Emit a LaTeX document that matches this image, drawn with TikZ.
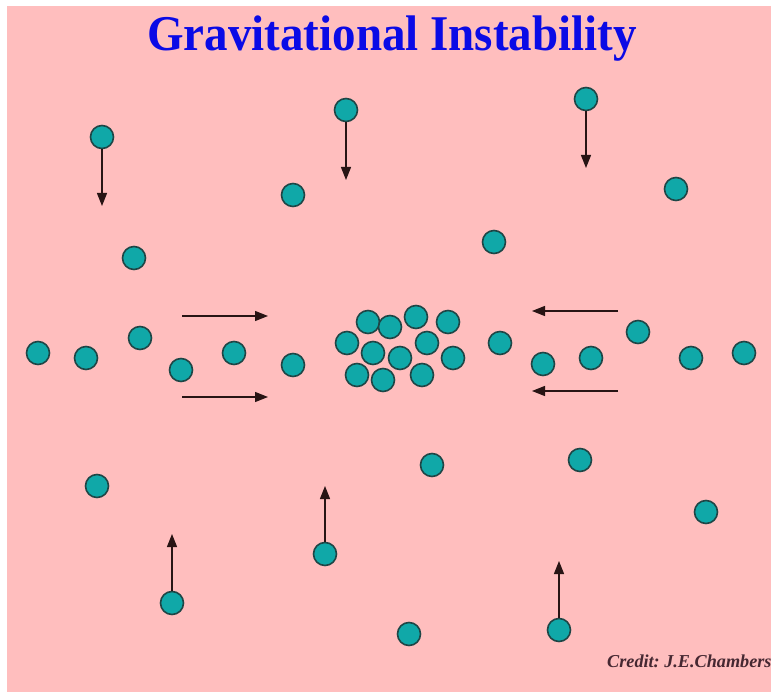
\documentclass[tikz,border=0pt]{standalone}
\usepackage{fontspec}
\setmainfont{Liberation Serif}
\usetikzlibrary{arrows.meta}
\frenchspacing
\definecolor{bgpink}{RGB}{255,190,190}
\definecolor{ballfill}{RGB}{16,168,168}
\definecolor{balledge}{RGB}{30,70,70}
\definecolor{titleblue}{RGB}{10,10,230}
\definecolor{creditcol}{RGB}{70,40,50}
\definecolor{arrowcol}{RGB}{40,20,20}
\tikzset{
  ball/.style={circle,fill=ballfill,draw=balledge,line width=1.6pt,minimum size=23pt,inner sep=0pt},
  motion/.style={draw=arrowcol,line width=1.2pt,-{Triangle[length=13pt,width=10pt]}}
}
\begin{document}
\begin{tikzpicture}[x=1pt,y=-1pt]
\useasboundingbox (0,0) rectangle (771,692);
\fill[white] (-5,-5) rectangle (780,700);
\fill[bgpink] (7,6) rectangle (780,700);
\node[anchor=base,text=titleblue,font=\bfseries\fontsize{50}{56}\selectfont,xscale=0.94] (title) at (392,51) {Gravitational Instability};
\node[anchor=base west,text=creditcol,font=\itshape\bfseries\fontsize{18.2}{21}\selectfont,inner sep=0pt] (credit) at (607,667) {Credit: J.E.Chambers};
% central cluster
\node[ball] (c1) at (368,322) {};
\node[ball] (c2) at (390,327) {};
\node[ball] (c3) at (416,317) {};
\node[ball] (c4) at (448,322) {};
\node[ball] (c5) at (347,343) {};
\node[ball] (c6) at (427,343) {};
\node[ball] (c7) at (373,353) {};
\node[ball] (c8) at (400,358) {};
\node[ball] (c9) at (453,358) {};
\node[ball] (c10) at (357,375) {};
\node[ball] (c11) at (383,380) {};
\node[ball] (c12) at (422,375) {};
% scattered
\node[ball] (b1) at (102,137) {};
\node[ball] (b2) at (346,110) {};
\node[ball] (b3) at (586,99) {};
\node[ball] (b4) at (293,195) {};
\node[ball] (b5) at (676,189) {};
\node[ball] (b6) at (134,258) {};
\node[ball] (b7) at (494,242) {};
\node[ball] (b8) at (38,353) {};
\node[ball] (b9) at (86,358) {};
\node[ball] (b10) at (140,338) {};
\node[ball] (b11) at (181,370) {};
\node[ball] (b12) at (234,353) {};
\node[ball] (b13) at (293,365) {};
\node[ball] (b14) at (500,343) {};
\node[ball] (b15) at (543,364) {};
\node[ball] (b16) at (591,358) {};
\node[ball] (b17) at (638,332) {};
\node[ball] (b18) at (691,358) {};
\node[ball] (b19) at (744,353) {};
\node[ball] (b20) at (97,486) {};
\node[ball] (b21) at (432,465) {};
\node[ball] (b22) at (580,460) {};
\node[ball] (b23) at (706,512) {};
\node[ball] (b24) at (325,554) {};
\node[ball] (b25) at (172,603) {};
\node[ball] (b26) at (409,634) {};
\node[ball] (b27) at (559,630) {};
% arrow end points
\coordinate (e1) at (102,206);
\coordinate (e2) at (346,180);
\coordinate (e3) at (586,168);
\coordinate (e24) at (325,486);
\coordinate (e25) at (172,534);
\coordinate (e27) at (559,561);
\coordinate (r1s) at (182,316); \coordinate (r1e) at (268,316);
\coordinate (r2s) at (182,397); \coordinate (r2e) at (268,397);
\coordinate (l1s) at (618,311); \coordinate (l1e) at (532,311);
\coordinate (l2s) at (618,391); \coordinate (l2e) at (532,391);
\draw[motion] (b1) -- (e1);
\draw[motion] (b2) -- (e2);
\draw[motion] (b3) -- (e3);
\draw[motion] (b24) -- (e24);
\draw[motion] (b25) -- (e25);
\draw[motion] (b27) -- (e27);
\draw[motion] (r1s) -- (r1e);
\draw[motion] (r2s) -- (r2e);
\draw[motion] (l1s) -- (l1e);
\draw[motion] (l2s) -- (l2e);
\end{tikzpicture}
\end{document}
